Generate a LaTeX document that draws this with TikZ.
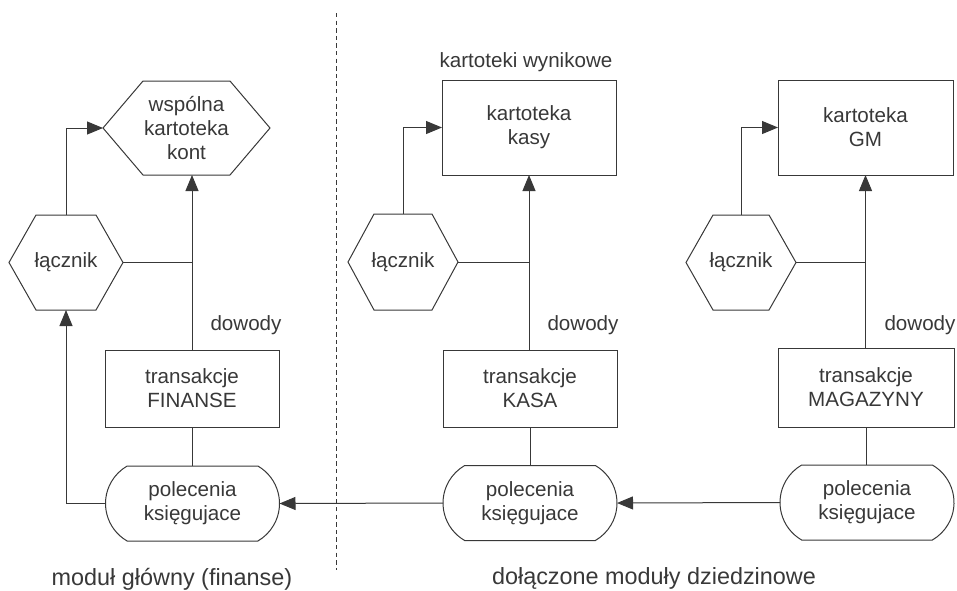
\documentclass[tikz,border=0pt]{standalone}
\usepackage{fontspec}
\setmainfont{Liberation Sans}
\usetikzlibrary{shapes.misc,arrows.meta,calc}
\definecolor{ink}{gray}{0.22}
\tikzset{
  txt/.style={font=\fontsize{10.3}{12}\selectfont, text=ink, align=center, inner sep=0pt, outer sep=0pt},
  bigtxt/.style={font=\fontsize{11.7}{14}\selectfont, text=ink, inner sep=0pt, outer sep=0pt},
  ln/.style={draw=ink, line width=0.5pt},
  arr/.style={ln, -{Triangle[length=8pt,width=6.5pt]}},
  rectbox/.style={txt, draw=ink, line width=0.5pt, rectangle, minimum width=87pt, minimum height=#1},
  hexnode/.style 2 args={txt, rectangle, draw=none, minimum width=#1, minimum height=#2},
  stadium/.style={txt, draw=ink, line width=0.5pt, rounded rectangle, rounded rectangle arc length=120, minimum width=87pt, minimum height=37.5pt},
  sep/.style={draw=ink, line width=0.5pt, dash pattern=on 2.2pt off 1.6pt}
}
\newcommand\hexoutline[2]{\draw[ln] ($(#1.north west)+(#2,0)$) -- ($(#1.north east)+(-#2,0)$) -- (#1.east) -- ($(#1.south east)+(-#2,0)$) -- ($(#1.south west)+(#2,0)$) -- (#1.west) -- cycle;}
\begin{document}
\begin{tikzpicture}[x=0.5pt,y=-0.5pt]
\useasboundingbox (0,0) rectangle (957,590);
% separator
\coordinate (dtop) at (336,13);
\coordinate (dbot) at (336,570);
\draw[sep] (dtop) -- (dbot);

% ---------- left: main module ----------
\node[hexnode={83.5pt}{47pt}] (kont) at (186.5,128) {wspólna\\kartoteka\\kont};
\hexoutline{kont}{20pt}
\node[hexnode={57pt}{47.5pt}] (lacF) at (66,262.5) {łącznik};
\hexoutline{lacF}{13.5pt}
\node[rectbox=38.5pt] (trF) at (192,388.5) {transakcje\\FINANSE};
\node[stadium] (polF) at (192.5,503.5) {polecenia\\księgujace};
\node[txt] (dowF) at (246,325) {dowody};

% ---------- middle: KASA ----------
\node[txt] (wyn) at (526,62) {kartoteki wynikowe};
\node[rectbox=47.5pt] (kasy) at (529,127.5) {kartoteka\\kasy};
\node[hexnode={55pt}{48pt}] (lacK) at (403,262) {łącznik};
\hexoutline{lacK}{13pt}
\node[rectbox=38.5pt] (trK) at (530,388.5) {transakcje\\KASA};
\node[stadium] (polK) at (530,503) {polecenia\\księgujace};
\node[txt] (dowK) at (583,325) {dowody};

% ---------- right: MAGAZYNY ----------
\node[rectbox=47.5pt, minimum width=87.5pt] (gm) at (865.5,127.5) {kartoteka\\GM};
\node[hexnode={55pt}{47.5pt}] (lacM) at (741,262.5) {łącznik};
\hexoutline{lacM}{13.5pt}
\node[rectbox=39.5pt, minimum width=88pt] (trM) at (866,387.5) {transakcje\\MAGAZYNY};
\node[stadium] (polM) at (867,502.5) {polecenia\\księgujace};
\node[txt] (dowM) at (920,325) {dowody};

% ---------- bottom labels ----------
\node[bigtxt] (lblL) at (172,579) {moduł główny (finanse)};
\node[bigtxt] (lblR) at (654,578) {dołączone moduły dziedzinowe};

% ---------- connectors: left ----------
\draw[arr] (polF.west) -| (lacF.south);
\draw[arr] (lacF.north) |- (kont.west);
\draw[ln] (lacF.east) -- (lacF.east -| trF.north);
\draw[arr] (trF.north) -- (trF.north |- kont.south);
\draw[ln] (trF.south) -- (polF.north -| trF.south);

% ---------- connectors: middle ----------
\draw[arr] (lacK.north) |- (kasy.west);
\draw[ln] (lacK.east) -- (lacK.east -| kasy.south);
\draw[arr] (trK.north -| kasy.south) -- (kasy.south);
\draw[ln] (trK.south) -- (polK.north);

% ---------- connectors: right ----------
\draw[arr] (lacM.north) |- (gm.west);
\draw[ln] (lacM.east) -- (lacM.east -| gm.south);
\draw[arr] (trM.north -| gm.south) -- (gm.south);
\draw[ln] (trM.south) -- (trM.south |- polM.north);

% ---------- between modules ----------
\draw[arr] (polK.west) -- (polF.east);
\draw[arr] (polM.west) -- (polK.east);
\end{tikzpicture}
\end{document}
